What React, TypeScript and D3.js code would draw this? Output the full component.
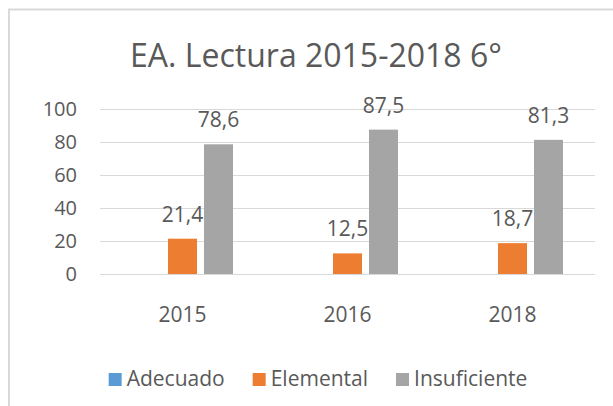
import { useEffect, useRef } from 'react';
import * as d3 from 'd3';

const years = ['2015', '2016', '2018'];
const seriesNames = ['Adecuado', 'Elemental', 'Insuficiente'];
const adecuado: (number | null)[] = [null, null, null];
const elemental: (number | null)[] = [21.4, 12.5, 18.7];
const insuficiente: (number | null)[] = [78.6, 87.5, 81.3];
const yTicks = [0, 20, 40, 60, 80, 100];
const colors = ['#5b9bd5', '#ed7d31', '#a5a5a5'];

const App = () => {
  const svgRef = useRef<SVGSVGElement>(null);

  useEffect(() => {
    const width = 613;
    const height = 406;
    const margin = { top: 109, right: 18, bottom: 132, left: 100 };
    const font = '"Open Sans", sans-serif';
    const textColor = '#595959';

    const svg = d3.select(svgRef.current)
      .attr('width', width)
      .attr('height', height);

    svg.selectAll('*').remove();

    // chart frame (runs off the right and bottom edge)
    svg.append('rect')
      .attr('x', 9)
      .attr('y', 9.5)
      .attr('width', 620)
      .attr('height', 420)
      .attr('fill', '#fff')
      .attr('stroke', '#d9d9d9')
      .attr('stroke-width', 2);

    // title
    svg.append('text')
      .attr('x', 316)
      .attr('y', 67)
      .attr('text-anchor', 'middle')
      .attr('font-family', font)
      .attr('font-size', 32)
      .attr('fill', textColor)
      .text('EA. Lectura 2015-2018 6°');

    // scales
    const x0 = d3.scaleBand()
      .domain(years)
      .range([margin.left, width - margin.right]);

    const groupWidth = 101;
    const offset = (x0.bandwidth() - groupWidth) / 2;
    const x1 = d3.scaleBand()
      .domain(seriesNames)
      .range([offset, offset + groupWidth])
      .paddingInner(7 / 36);

    const y = d3.scaleLinear()
      .domain([0, 100])
      .range([height - margin.bottom, margin.top]);

    // gridlines
    svg.append('g')
      .selectAll('line')
      .data(yTicks)
      .enter()
      .append('line')
      .attr('x1', margin.left)
      .attr('x2', width - margin.right)
      .attr('y1', d => Math.round(y(d)) + 0.5)
      .attr('y2', d => Math.round(y(d)) + 0.5)
      .attr('stroke', '#d9d9d9')
      .attr('stroke-width', 1);

    // y tick labels
    svg.append('g')
      .selectAll('text')
      .data(yTicks)
      .enter()
      .append('text')
      .attr('x', 77)
      .attr('y', d => y(d))
      .attr('dy', '0.35em')
      .attr('text-anchor', 'end')
      .attr('font-family', font)
      .attr('font-size', 20)
      .attr('fill', textColor)
      .text(d => d);

    // category labels
    svg.append('g')
      .selectAll('text')
      .data(years)
      .enter()
      .append('text')
      .attr('x', d => (x0(d) as number) + x0.bandwidth() / 2)
      .attr('y', 322)
      .attr('text-anchor', 'middle')
      .attr('font-family', font)
      .attr('font-size', 21)
      .attr('fill', textColor)
      .text(d => d);

    // bars
    const allSeries = [adecuado, elemental, insuficiente];
    const groups = svg.selectAll('g.year')
      .data(years)
      .enter()
      .append('g')
      .attr('class', 'year')
      .attr('transform', d => `translate(${x0(d)}, 0)`);

    groups.each(function (year, i) {
      const group = d3.select(this);
      seriesNames.forEach((name, s) => {
        const v = allSeries[s][i];
        if (v == null) return;
        const bx = x1(name) as number;
        group.append('rect')
          .attr('x', bx)
          .attr('y', y(v))
          .attr('width', x1.bandwidth())
          .attr('height', y(0) - y(v))
          .attr('fill', colors[s]);

        group.append('text')
          .attr('x', bx + x1.bandwidth() / 2)
          .attr('y', y(v) - 17)
          .attr('text-anchor', 'middle')
          .attr('font-family', font)
          .attr('font-size', 21)
          .attr('fill', textColor)
          .text(d3.format('.1f')(v).replace('.', ','));
      });
    });

    // legend
    const legend = svg.append('g');
    const items = legend.selectAll('g')
      .data(seriesNames)
      .enter()
      .append('g');

    items.append('rect')
      .attr('width', 13)
      .attr('height', 13)
      .attr('y', -13)
      .attr('fill', (d, i) => colors[i]);

    items.append('text')
      .attr('x', 18)
      .attr('y', 0)
      .attr('font-family', font)
      .attr('font-size', 21)
      .attr('fill', textColor)
      .text(d => d);

    let cursor = 0;
    items.each(function () {
      const g = d3.select(this);
      const w = 18 + (g.select('text').node() as SVGTextElement).getComputedTextLength();
      g.attr('transform', `translate(${cursor}, 0)`);
      cursor += w + 28;
    });
    const total = cursor - 28;
    legend.attr('transform', `translate(${318 - total / 2}, 386)`);
  }, []);

  return (
    <svg
      ref={svgRef}
      style={{ position: 'absolute', left: 0, top: 0, display: 'block' }}
    ></svg>
  );
};

export default App;
